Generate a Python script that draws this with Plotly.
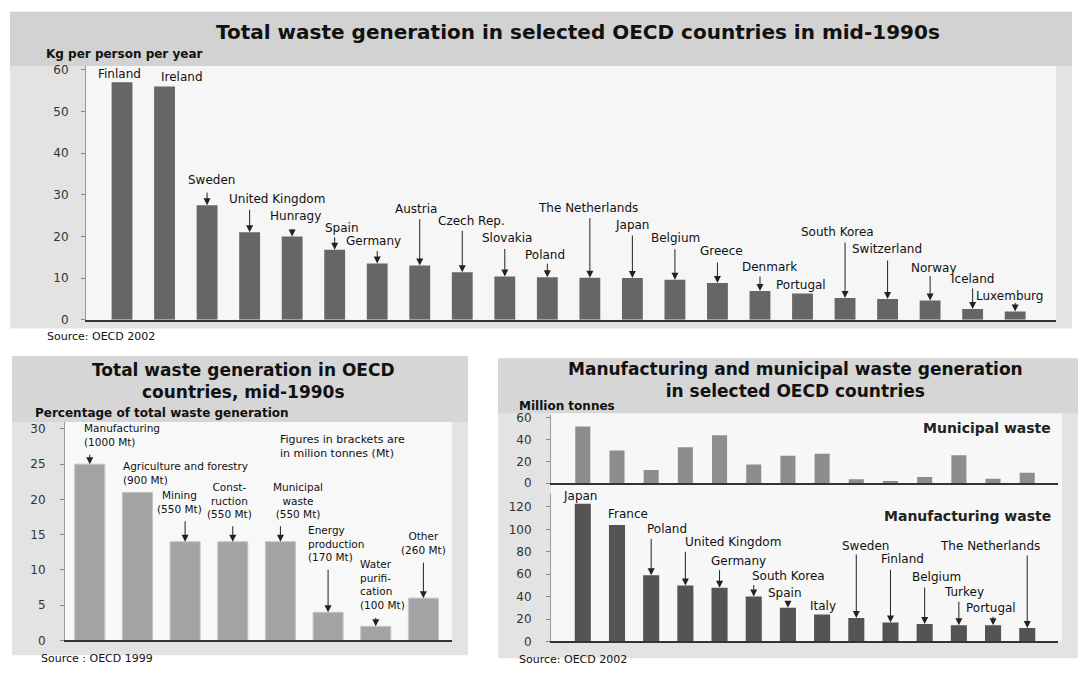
import plotly.graph_objects as go

W, H = 1083, 675

# --- top chart: kg per person per year ---
top_countries = ["Finland", "Ireland", "Sweden", "United Kingdom", "Hunragy", "Spain",
                 "Germany", "Austria", "Czech Rep.", "Slovakia", "Poland", "The Netherlands",
                 "Japan", "Belgium", "Greece", "Denmark", "Portugal", "South Korea",
                 "Switzerland", "Norway", "Iceland", "Luxemburg"]
top_values = [57, 56, 27.5, 21, 20, 16.8, 13.5, 13, 11.4, 10.4, 10.2, 10.1,
              10, 9.6, 8.8, 6.9, 6.3, 5.2, 5, 4.6, 2.6, 2.0]

# --- bottom left: share of total waste by sector ---
sector_names = ["Manufacturing", "Agriculture and forestry", "Mining", "Const-<br>ruction",
                "Municipal<br>waste", "Energy<br>production", "Water<br>purifi-<br>cation", "Other"]
sector_mt = [1000, 900, 550, 550, 550, 170, 100, 260]
sector_pct = [25, 21, 14, 14, 14, 4, 2, 6]

# --- bottom right: million tonnes ---
mw_countries = ["Japan", "France", "Poland", "United Kingdom", "Germany", "South Korea", "Spain",
                "Italy", "Sweden", "Finland", "Belgium", "Turkey", "Portugal", "The Netherlands"]
municipal_mt = [52, 30, 12, 33, 44, 17, 25, 27, 3.5, 2, 5.5, 25.5, 4, 9.5]
manufacturing_mt = [123, 104, 59, 50, 48, 40, 30, 24, 21, 17, 15.5, 14.5, 14.5, 12]

# label placement (pixels): text left offset, text lift above bar, arrow length
top_dx = [-26, -6, -21, -23, -24, -12, -33, -27, -26, -25, -24, -54, -19, -26, -19, -20, -29, -46, -38, -21, -24, -41]
top_up = [8, 9, 25, 33, 20, 22, 23, 57, 51, 38, 22, 70, 53, 42, 32, 24, 9, 66, 50, 33, 30, 15]
top_arrow = [0, 0, 14, 24, 9, 14, 14, 48, 43, 29, 15, 61, 44, 32, 22, 16, 0, 57, 40, 26, 22, 10]

sec_anchor = ["left", "left", "center", "center", "center", "left", "left", "center"]
sec_dx = [-8, -16, -6, -3, 18, -22, -18, 0]
sec_lift = [14, 4, 25, 20, 20, 47, 13, 40]
sec_arrow = [11, 0, 22, 17, 17, 44, 10, 37]

mw_dx = [-22, -11, -6, -2, -11, -4, -22, -14, -16, -11, -15, -17, -29, -89]
mw_up = [8, 11, 46, 43, 27, 21, 15, 9, 72, 63, 47, 33, 17, 82]
mw_arrow = [0, 0, 38, 35, 19, 13, 8, 0, 65, 54, 38, 25, 10, 74]

FONT = "DejaVu Sans"


def px(x):
    return x / W


def py(y):
    return 1 - y / H


fig = go.Figure()
fig.add_trace(go.Bar(x=top_countries, y=top_values, xaxis="x", yaxis="y",
                     marker=dict(color="#666666", line=dict(width=0)), width=0.49))
fig.add_trace(go.Bar(x=sector_names, y=sector_pct, xaxis="x2", yaxis="y2",
                     marker=dict(color="#a3a3a3", line=dict(color="#c4c4c4", width=1)), width=0.63))
fig.add_trace(go.Bar(x=mw_countries, y=municipal_mt, xaxis="x3", yaxis="y3",
                     marker=dict(color="#8d8d8d", line=dict(width=0)), width=0.44))
fig.add_trace(go.Bar(x=mw_countries, y=manufacturing_mt, xaxis="x4", yaxis="y4",
                     marker=dict(color="#545454", line=dict(width=0)), width=0.47))


def xax(x0, x1, rng, anchor):
    return dict(domain=[px(x0), px(x1)], range=rng, type="category", anchor=anchor,
                showticklabels=False, ticks="", showgrid=False, zeroline=False,
                showline=True, linecolor="#333333", linewidth=1.5, fixedrange=True)


def yax(y0, y1, rng, ticks, anchor, standoff):
    return dict(domain=[py(y0), py(y1)], range=rng, anchor=anchor, tickvals=ticks,
                ticks="outside", ticklen=4, tickcolor="#888888", showgrid=False,
                zeroline=False, showline=True, linecolor="#999999", linewidth=1,
                ticklabelstandoff=standoff,
                tickfont=dict(family=FONT, size=12, color="#333333"), fixedrange=True)


n_top = len(top_countries)
n_mw = len(mw_countries)
fig.update_layout(
    xaxis=xax(86, 1056, [-0.847, n_top - 1 + 0.96], "y"),
    yaxis=yax(321, 63, [0, 60.9], [0, 10, 20, 30, 40, 50, 60], "x", 10),
    xaxis2=xax(65, 452, [-0.52, len(sector_names) - 1 + 0.6], "y2"),
    yaxis2=yax(647, 425, [0, 30.97], [0, 5, 10, 15, 20, 25, 30], "x2", 12),
    xaxis3=xax(551, 1058, [-0.93, n_mw - 1 + 0.9], "y3"),
    yaxis3=yax(487, 418, [0, 62.4], [0, 20, 40, 60], "x3", 12),
    xaxis4=xax(551, 1058, [-0.93, n_mw - 1 + 0.9], "y4"),
    yaxis4=yax(648, 498, [0, 131.7], [0, 20, 40, 60, 80, 100, 120], "x4", 12),
)

ann = []


def arrow(x, y, xr, yr, length):
    return dict(x=x, y=y, xref=xr, yref=yr, text="", showarrow=True, ax=0, ay=-length,
                arrowhead=2, arrowsize=1.4, arrowwidth=1, arrowcolor="#222222")


def paper_text(x, y, text, size, bold=False, xanchor="left", color="#111111"):
    t = "<b>" + text + "</b>" if bold else text
    return dict(x=px(x), y=py(y), xref="paper", yref="paper", text=t, showarrow=False,
                xanchor=xanchor, yanchor="middle", align=xanchor,
                font=dict(family=FONT, size=size, color=color))


# top chart labels
for i, c in enumerate(top_countries):
    ann.append(dict(x=c, y=top_values[i], xref="x", yref="y", text=c, showarrow=False,
                    xanchor="left", yanchor="middle", xshift=top_dx[i], yshift=top_up[i],
                    font=dict(family=FONT, size=12, color="#111111")))
    if top_arrow[i]:
        ann.append(arrow(c, top_values[i], "x", "y", top_arrow[i]))

# sector labels
for i, s in enumerate(sector_names):
    ann.append(dict(x=s, y=sector_pct[i], xref="x2", yref="y2",
                    text=s + "<br>(" + str(sector_mt[i]) + " Mt)", showarrow=False,
                    xanchor=sec_anchor[i], align=sec_anchor[i], yanchor="bottom",
                    xshift=sec_dx[i], yshift=sec_lift[i],
                    font=dict(family=FONT, size=10.5, color="#111111")))
    if sec_arrow[i]:
        ann.append(arrow(s, sector_pct[i], "x2", "y2", sec_arrow[i]))

# manufacturing labels
for i, c in enumerate(mw_countries):
    ann.append(dict(x=c, y=manufacturing_mt[i], xref="x4", yref="y4", text=c, showarrow=False,
                    xanchor="left", yanchor="middle", xshift=mw_dx[i], yshift=mw_up[i],
                    font=dict(family=FONT, size=12, color="#111111")))
    if mw_arrow[i]:
        ann.append(arrow(c, manufacturing_mt[i], "x4", "y4", mw_arrow[i]))

# titles and notes
ann += [
    paper_text(578, 28, "Total waste generation in selected OECD countries in mid-1990s", 20, True, "center"),
    paper_text(44, 51, "Kg per person per year", 12, True),
    paper_text(45, 338, "Source: OECD 2002", 11),
    paper_text(243, 383, "<b>Total waste generation in OECD<br>countries, mid-1990s</b>", 17, False, "center"),
    paper_text(33, 416, "Percentage of total waste generation", 12, True),
    paper_text(278, 450, "Figures in brackets are<br>in milion tonnes (Mt)", 11),
    paper_text(39, 665, "Source : OECD 1999", 11),
    paper_text(795, 382, "<b>Manufacturing and municipal waste generation<br>in selected OECD countries</b>", 17, False, "center"),
    paper_text(517, 409, "Million tonnes", 12, True),
    paper_text(1053, 431, "Municipal waste", 14, True, "right", "#222222"),
    paper_text(1053, 520, "Manufacturing waste", 14, True, "right", "#222222"),
    paper_text(517, 666, "Source: OECD 2002", 11),
]


def rect(x0, y0, x1, y1, color):
    return dict(type="rect", xref="paper", yref="paper", x0=px(x0), x1=px(x1), y0=py(y1), y1=py(y0),
                fillcolor=color, line=dict(width=0), layer="below")


shapes = [
    rect(10, 8, 1072, 330, "#e3e3e3"),
    rect(10, 8, 1072, 63, "#d2d2d2"),
    rect(86, 63, 1056, 321, "#f6f6f6"),
    rect(12, 358, 468, 662, "#e3e3e3"),
    rect(12, 358, 468, 425, "#d6d6d6"),
    rect(65, 425, 452, 647, "#f8f8f8"),
    rect(498, 360, 1078, 665, "#e3e3e3"),
    rect(498, 360, 1078, 416, "#d6d6d6"),
    rect(551, 416, 1062, 648, "#f7f7f7"),
]

fig.update_layout(
    width=W, height=H, margin=dict(l=0, r=0, t=0, b=0),
    paper_bgcolor="white", plot_bgcolor="rgba(0,0,0,0)",
    showlegend=False, bargap=0.5,
    annotations=ann, shapes=shapes,
    font=dict(family=FONT, color="#111111"),
)

# the page body has a default 8px margin; remove it so the figure sits at the window origin
fig.write_html("out.html", config={"displayModeBar": False},
               post_script="document.body.style.margin='0';")
